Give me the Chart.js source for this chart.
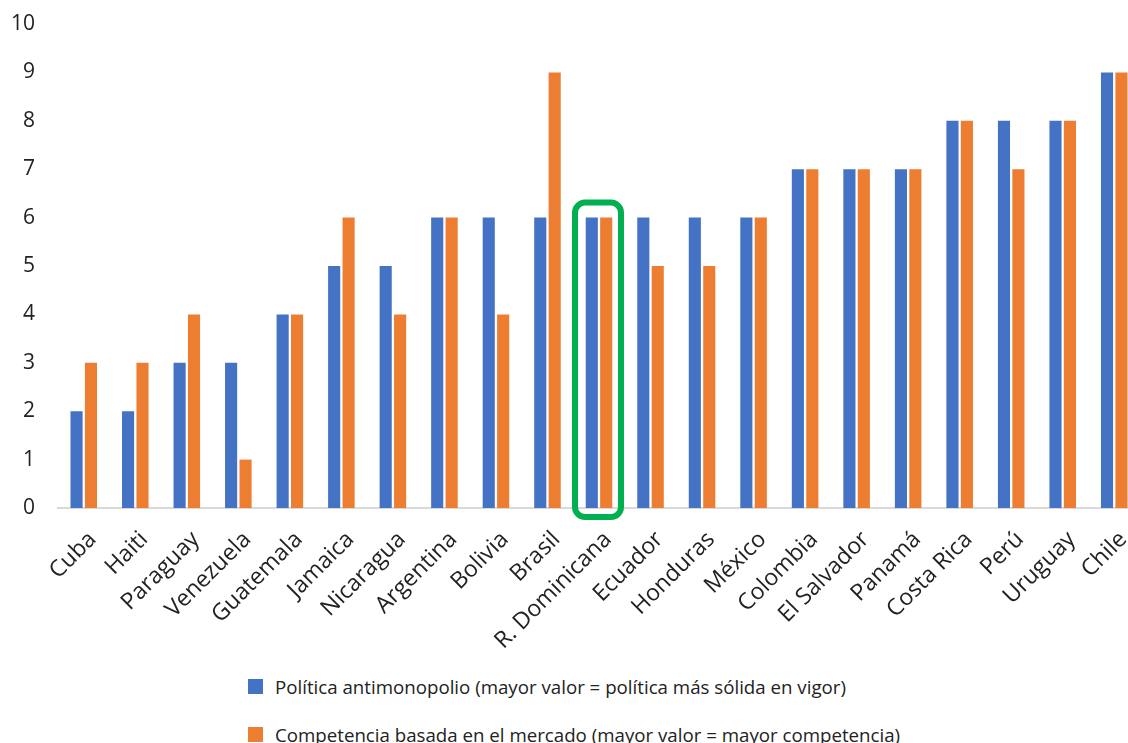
<!DOCTYPE html>
<html>
<head>
<meta charset="utf-8">
<script src="https://cdn.jsdelivr.net/npm/chart.js@4.4.1/dist/chart.umd.min.js"></script>
<style>
  html, body { margin: 0; padding: 0; background: #fff; overflow: hidden; }
  #wrap { position: relative; width: 1140px; height: 658px; }
  #legend { position: absolute; left: 248px; top: 672px; font-family: "Open Sans", sans-serif; font-size: 18.7px; color: #222; }
  .item { display: flex; align-items: center; height: 28px; margin-bottom: 20px; }
  .box { width: 15px; height: 15px; margin-right: 12px; }
</style>
</head>
<body>
<div id="wrap"><canvas id="chart"></canvas></div>
<div id="legend"></div>
<script>
// data
var countries = ['Cuba', 'Haiti', 'Paraguay', 'Venezuela', 'Guatemala', 'Jamaica', 'Nicaragua',
  'Argentina', 'Bolivia', 'Brasil', 'R. Dominicana', 'Ecuador', 'Honduras', 'México',
  'Colombia', 'El Salvador', 'Panamá', 'Costa Rica', 'Perú', 'Uruguay', 'Chile'];
var antimonopolio = [2, 2, 3, 3, 4, 5, 5, 6, 6, 6, 6, 6, 6, 6, 7, 7, 7, 8, 8, 8, 9];
var competencia = [3, 3, 4, 1, 4, 6, 4, 6, 4, 9, 6, 5, 5, 6, 7, 7, 7, 8, 7, 8, 9];
var yTicks = [0, 1, 2, 3, 4, 5, 6, 7, 8, 9, 10];
var highlighted = 'R. Dominicana';

var seriesNames = [
  'Política antimonopolio (mayor valor = política más sólida en vigor)',
  'Competencia basada en el mercado (mayor valor = mayor competencia)'
];
var colors = ['#4472C4', '#ED7D31'];

// green rounded box around one country
var highlightBox = {
  id: 'highlightBox',
  afterDatasetsDraw: function(chart) {
    var x = chart.scales.x, y = chart.scales.y;
    var i = countries.indexOf(highlighted);
    var cx = x.getPixelForValue(i) - 1;
    var top = y.getPixelForValue(Math.max(antimonopolio[i], competencia[i])) - 15;
    var bottom = y.getPixelForValue(0) + 9;
    var left = cx - 23, w = 46, h = bottom - top;
    var ctx = chart.ctx;
    ctx.save();
    ctx.strokeStyle = '#00B050';
    ctx.lineWidth = 6;
    ctx.beginPath();
    ctx.roundRect(left, top, w, h, 10);
    ctx.stroke();
    ctx.restore();
  }
};

var ctx = document.getElementById('chart').getContext('2d');
var chart = new Chart(ctx, {
  type: 'bar',
  data: {
    labels: countries,
    datasets: [
      { label: seriesNames[0], data: antimonopolio, backgroundColor: colors[0], barPercentage: 0.84, categoryPercentage: 0.56 },
      { label: seriesNames[1], data: competencia, backgroundColor: colors[1], barPercentage: 0.84, categoryPercentage: 0.56 }
    ]
  },
  options: {
    responsive: true,
    maintainAspectRatio: false,
    animation: false,
    layout: { padding: { top: 24, left: 0, right: 0, bottom: 0 } },
    plugins: {
      legend: { display: false },
      tooltip: { enabled: false }
    },
    scales: {
      x: {
        grid: { display: false },
        border: { display: true, color: '#D9D9D9', width: 2 },
        ticks: {
          minRotation: 45, maxRotation: 45, autoSkip: false, padding: 10, labelOffset: 9,
          color: '#222', font: { family: '"Open Sans", sans-serif', size: 23 }
        },
        afterFit: function(scale) {
          scale.height = 150;
          scale.paddingLeft = 0;
          scale.paddingRight = 0;
        }
      },
      y: {
        min: 0, max: 10,
        grid: { display: false, drawTicks: false },
        border: { display: false },
        afterBuildTicks: function(scale) {
          scale.ticks = yTicks.map(function(v) { return { value: v }; });
        },
        ticks: {
          padding: 23, color: '#222',
          font: { family: '"Open Sans", sans-serif', size: 21 }
        },
        afterFit: function(scale) {
          scale.width = 58;
          scale.paddingTop = 0;
          scale.paddingBottom = 0;
        }
      }
    }
  },
  plugins: [highlightBox]
});

// legend as plain html, built from the datasets
var legend = document.getElementById('legend');
chart.data.datasets.forEach(function(ds) {
  var item = document.createElement('div');
  item.className = 'item';
  var box = document.createElement('span');
  box.className = 'box';
  box.style.background = ds.backgroundColor;
  var txt = document.createElement('span');
  txt.textContent = ds.label;
  item.appendChild(box);
  item.appendChild(txt);
  legend.appendChild(item);
});
</script>
</body>
</html>
